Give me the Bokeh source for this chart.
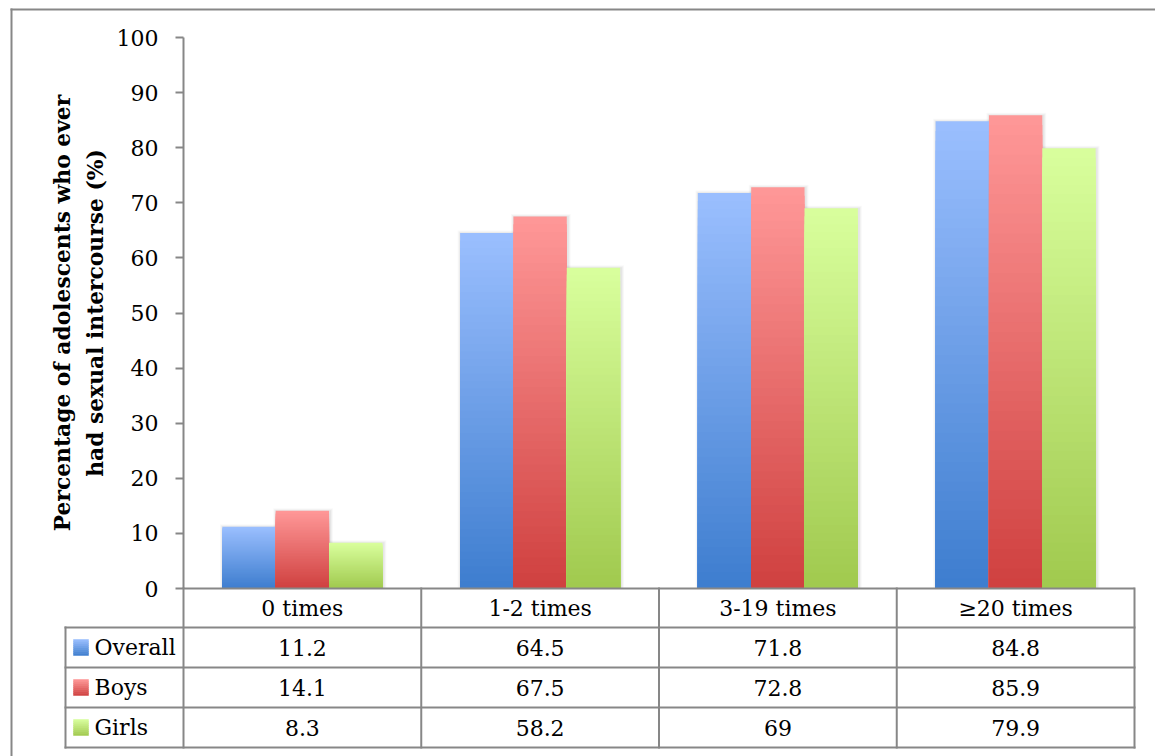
from bokeh.plotting import figure
from bokeh.models import Range1d, FixedTicker, LinearAxis, ColumnDataSource
from bokeh.core.properties import value
from bokeh.embed import file_html
from bokeh.resources import INLINE

# ---------------- data ----------------
categories = ["0 times", "1-2 times", "3-19 times", "\u226520 times"]
series_names = ["Overall", "Boys", "Girls"]
overall = [11.2, 64.5, 71.8, 84.8]
boys = [14.1, 67.5, 72.8, 85.9]
girls = [8.3, 58.2, 69, 79.9]
overall_text = ["11.2", "64.5", "71.8", "84.8"]
boys_text = ["14.1", "67.5", "72.8", "85.9"]
girls_text = ["8.3", "58.2", "69", "79.9"]
y_ticks = [0, 10, 20, 30, 40, 50, 60, 70, 80, 90, 100]
y_title = "Percentage of adolescents who ever\nhad sexual intercourse (%)"

# ---------------- styles / layout ----------------
top_colors = [(155, 191, 255), (255, 152, 152), (217, 255, 157)]
bottom_colors = [(61, 125, 206), (207, 64, 63), (160, 201, 78)]
GRAY = "#878787"
FONT = "DejaVu Serif"

W, H = 1155, 756
PLOT_L, PLOT_R, PLOT_T, PLOT_B = 183, 1134, 37, 588   # pixel box of the value area
Y_MIN, Y_MAX = 0, 100
ncat = len(categories)
px_x = ncat / (PLOT_R - PLOT_L)
px_y = (Y_MAX - Y_MIN) / (PLOT_B - PLOT_T)
x_start = -0.5 - PLOT_L * px_x
x_end = ncat - 0.5 + (W - PLOT_R) * px_x
y_end = Y_MAX + PLOT_T * px_y
y_start = Y_MIN - (H - PLOT_B) * px_y

def cx(px):   # layout pixel -> x coordinate
    return x_start + px * px_x

def cy(py):   # layout pixel -> y coordinate
    return y_end - py * px_y

p = figure(width=W, height=H, x_range=Range1d(x_start, x_end),
           y_range=Range1d(y_start, y_end), output_backend="svg",
           toolbar_location=None, x_axis_type=None, y_axis_type=None,
           min_border=0)
p.outline_line_color = None
p.background_fill_color = "white"
p.border_fill_color = "white"

# ---------------- axes ----------------
yaxis = LinearAxis(ticker=FixedTicker(ticks=y_ticks), axis_label=y_title,
                   fixed_location=-0.5, bounds=(Y_MIN, Y_MAX))
yaxis.axis_line_color = GRAY
yaxis.axis_line_width = 2
yaxis.major_tick_line_color = GRAY
yaxis.major_tick_line_width = 2
yaxis.major_tick_out = 8
yaxis.major_tick_in = 0
yaxis.minor_tick_out = 0
yaxis.minor_tick_in = 0
yaxis.major_label_standoff = 17
yaxis.major_label_text_font = FONT
yaxis.major_label_text_font_size = "22px"
yaxis.major_label_text_color = "black"
yaxis.axis_label_text_font = FONT
yaxis.axis_label_text_font_style = "bold"
yaxis.axis_label_text_font_size = "21.8px"
yaxis.axis_label_text_color = "black"
yaxis.axis_label_text_line_height = 1.3
yaxis.axis_label_standoff = 6
p.add_layout(yaxis, "left")

xaxis = LinearAxis(ticker=FixedTicker(ticks=list(range(ncat))),
                   major_label_overrides={i: c for i, c in enumerate(categories)},
                   fixed_location=Y_MIN, bounds=(-0.5, ncat - 0.5))
xaxis.axis_line_color = GRAY
xaxis.axis_line_width = 2
xaxis.major_tick_out = 0
xaxis.major_tick_in = 0
xaxis.minor_tick_out = 0
xaxis.minor_tick_in = 0
xaxis.major_label_standoff = 7
xaxis.major_label_text_font = FONT
xaxis.major_label_text_font_size = "22px"
xaxis.major_label_text_color = "black"
p.add_layout(xaxis, "below")

# ---------------- bars with vertical gradient ----------------
values = [overall, boys, girls]
group_w = 0.673
bar_w = group_w / len(values)
N = 48

def mix(c0, c1, t):
    return "#%02x%02x%02x" % tuple(int(round(a + (b - a) * t)) for a, b in zip(c0, c1))

sh = dict(left=[], right=[], top=[], bottom=[], alpha=[])
for s, vals in enumerate(values):
    for i, v in enumerate(vals):
        x0 = i - group_w / 2 + s * bar_w
        x1 = x0 + bar_w
        for k, a in ((4, 0.025), (3, 0.035), (2, 0.045)):
            sh["left"].append(x0 - (k - 1.5) * px_x)
            sh["right"].append(x1 + k * px_x)
            sh["top"].append(v + (k - 1.5) * px_y)
            sh["bottom"].append(0)
            sh["alpha"].append(a)
p.quad(left="left", right="right", top="top", bottom="bottom", source=ColumnDataSource(sh),
       fill_color="black", fill_alpha="alpha", line_color=None)

bars = dict(left=[], right=[], top=[], bottom=[], color=[])
for s, vals in enumerate(values):
    for i, v in enumerate(vals):
        x0 = i - group_w / 2 + s * bar_w
        x1 = x0 + bar_w
        for k in range(N, 0, -1):
            t = (k - 0.5) / N
            bars["left"].append(x0)
            bars["right"].append(x1)
            bars["bottom"].append(0)
            bars["top"].append(v * k / N)
            bars["color"].append(mix(bottom_colors[s], top_colors[s], t))
p.quad(left="left", right="right", top="top", bottom="bottom", source=ColumnDataSource(bars),
       fill_color="color", line_color=None)

# ---------------- data table below the plot ----------------
row_px = [PLOT_B, 627, 667, 707, 747]      # row edges (pixels)
LEG_L = 65
row_y = [cy(r) for r in row_px]
seg = dict(x0=[], y0=[], x1=[], y1=[])
def add_seg(a, b, c, d):
    seg["x0"].append(a); seg["y0"].append(b); seg["x1"].append(c); seg["y1"].append(d)
for j in range(ncat + 1):                    # column separators
    add_seg(j - 0.5, row_y[0], j - 0.5, row_y[-1])
add_seg(cx(LEG_L), row_y[1], cx(LEG_L), row_y[-1])
for r in range(1, len(row_y)):
    add_seg(cx(LEG_L), row_y[r], ncat - 0.5, row_y[r])
p.segment(x0="x0", y0="y0", x1="x1", y1="y1", source=ColumnDataSource(seg),
          line_color=GRAY, line_width=2, line_cap="square")

# outer chart frame
p.segment(x0=[cx(11), cx(11)], y0=[cy(9), cy(9)], x1=[cx(11), cx(W + 20)],
          y1=[cy(H + 20), cy(9)], line_color=GRAY, line_width=2, line_cap="square")

texts = [overall_text, boys_text, girls_text]
sw = dict(left=[], right=[], top=[], bottom=[], color=[])
tx = dict(x=[], y=[], text=[])
lx = dict(x=[], y=[], text=[])
for s, name in enumerate(series_names):
    yc_px = (row_px[s + 1] + row_px[s + 2]) / 2
    ns = 8
    for k in range(ns):
        t = 1 - (k + 0.5) / ns
        sw["left"].append(cx(73)); sw["right"].append(cx(88))
        sw["top"].append(cy(yc_px - 8 + k * 2)); sw["bottom"].append(cy(yc_px - 8 + (k + 1) * 2))
        sw["color"].append(mix(bottom_colors[s], top_colors[s], t))
    lx["x"].append(cx(94)); lx["y"].append(cy(yc_px)); lx["text"].append(name)
    for i in range(ncat):
        tx["x"].append(i); tx["y"].append(cy(yc_px)); tx["text"].append(texts[s][i])
p.quad(left="left", right="right", top="top", bottom="bottom", source=ColumnDataSource(sw),
       fill_color="color", line_color="color", line_width=0.5)
p.text(x="x", y="y", text="text", source=ColumnDataSource(lx), text_font=value(FONT),
       text_font_size=value("22px"), text_color="black", text_align="left",
       text_baseline="middle")
p.text(x="x", y="y", text="text", source=ColumnDataSource(tx), text_font=value(FONT),
       text_font_size=value("22px"), text_color="black", text_align="center",
       text_baseline="middle")

open("out.html", "w").write(file_html(p, INLINE))
